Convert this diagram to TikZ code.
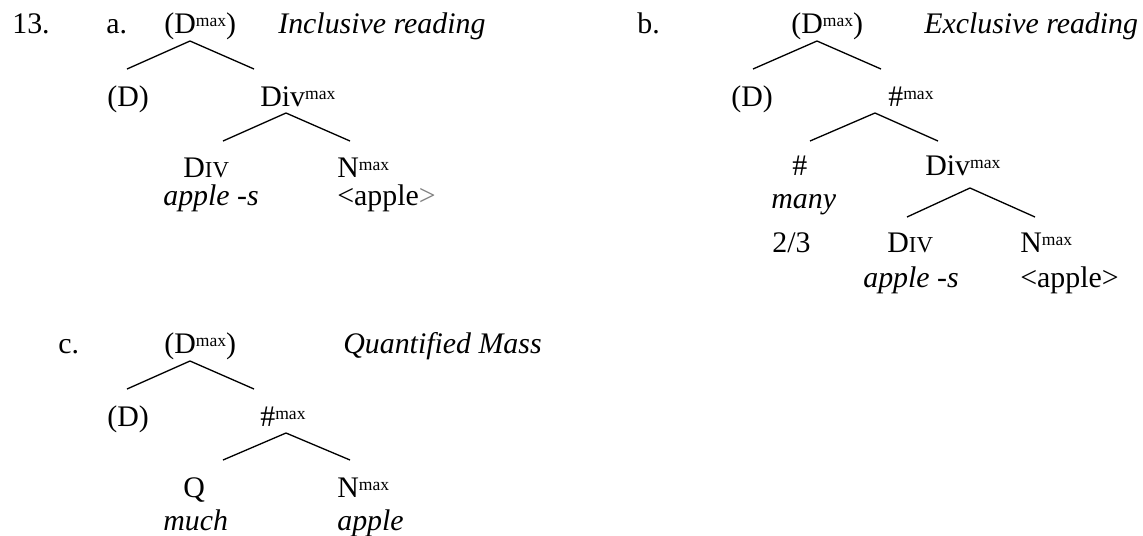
\documentclass[tikz,border=0pt]{standalone}
\usepackage{fontspec}
\setmainfont{Liberation Serif}
\usetikzlibrary{positioning}

\newcommand{\supmax}{\raisebox{3.6pt}{\fontsize{10}{12}\selectfont max}}
\newcommand{\smcaps}[1]{{\fontsize{13}{15}\selectfont #1}}

\begin{document}
\begin{tikzpicture}[
    x=0.02cm, y=-0.02cm,
    cat/.style={
        anchor=base west,
        inner sep=0pt,
        font=\fontsize{17}{20}\selectfont
    },
    gloss/.style={
        cat,
        font=\fontsize{17}{20}\selectfont\itshape
    },
    branch/.style={line width=0.75pt}
]
\useasboundingbox (0,0) rectangle (1143,535);

% (13a) INCLUSIVE READING
\node[cat] (num) at (12,33) {13.};
\node[cat] (labela) at (106,33) {a.};
\node[cat] (aroot) at (164,33) {(D\supmax)};
\node[gloss] (areading) at (278,33) {Inclusive reading};
\node[cat] (aD) at (107,106) {(D)};
\node[cat] (adiv) at (260,106) {Div\supmax};
\node[cat] (aDIV) at (183,177) {D\smcaps{IV}};
\node[cat] (aN) at (337,177) {N\supmax};
\node[gloss] (aapples) at (163,205) {apple -s};
\node[cat] (aapple) at (337,205) {<apple{\color{gray}>}};

\coordinate (a1top) at (190,41);
\coordinate (a1left) at (127,69);
\coordinate (a1right) at (254,69);
\coordinate (a2top) at (286,113);
\coordinate (a2left) at (223,141);
\coordinate (a2right) at (350,141);
\draw[branch] (a1left) -- (a1top) -- (a1right);
\draw[branch] (a2left) -- (a2top) -- (a2right);

% (13b) EXCLUSIVE READING
\node[cat] (labelb) at (637,33) {b.};
\node[cat] (broot) at (791,33) {(D\supmax)};
\node[gloss] (breading) at (924,33) {Exclusive reading};
\node[cat] (bD) at (731,106) {(D)};
\node[cat] (bnummax) at (888,106) {\#\supmax};
\node[cat] (bnum) at (792,175) {\#};
\node[cat] (bdiv) at (925,175) {Div\supmax};
\node[gloss] (bmany) at (771,208) {many};
\node[cat] (bfrac) at (772,252) {2/3};
\node[cat] (bDIV) at (887,252) {D\smcaps{IV}};
\node[cat] (bN) at (1020,252) {N\supmax};
\node[gloss] (bapples) at (863,287) {apple -s};
\node[cat] (bapple) at (1020,287) {<apple>};

\coordinate (b1top) at (817,41);
\coordinate (b1left) at (753,69);
\coordinate (b1right) at (881,69);
\coordinate (b2top) at (875,113);
\coordinate (b2left) at (810,141);
\coordinate (b2right) at (938,141);
\coordinate (b3top) at (970,188);
\coordinate (b3left) at (907,217);
\coordinate (b3right) at (1035,217);
\draw[branch] (b1left) -- (b1top) -- (b1right);
\draw[branch] (b2left) -- (b2top) -- (b2right);
\draw[branch] (b3left) -- (b3top) -- (b3right);

% (13c) QUANTIFIED MASS
\node[cat] (labelc) at (58,353) {c.};
\node[cat] (croot) at (164,353) {(D\supmax)};
\node[gloss] (creading) at (343,353) {Quantified Mass};
\node[cat] (cD) at (107,426) {(D)};
\node[cat] (cnummax) at (260,426) {\#\supmax};
\node[cat] (cQ) at (183,497) {Q};
\node[cat] (cN) at (337,497) {N\supmax};
\node[gloss] (cmuch) at (163,530) {much};
\node[gloss] (capple) at (337,530) {apple};

\coordinate (c1top) at (190,361);
\coordinate (c1left) at (127,389);
\coordinate (c1right) at (254,389);
\coordinate (c2top) at (286,433);
\coordinate (c2left) at (223,460);
\coordinate (c2right) at (350,460);
\draw[branch] (c1left) -- (c1top) -- (c1right);
\draw[branch] (c2left) -- (c2top) -- (c2right);

\end{tikzpicture}
\end{document}
